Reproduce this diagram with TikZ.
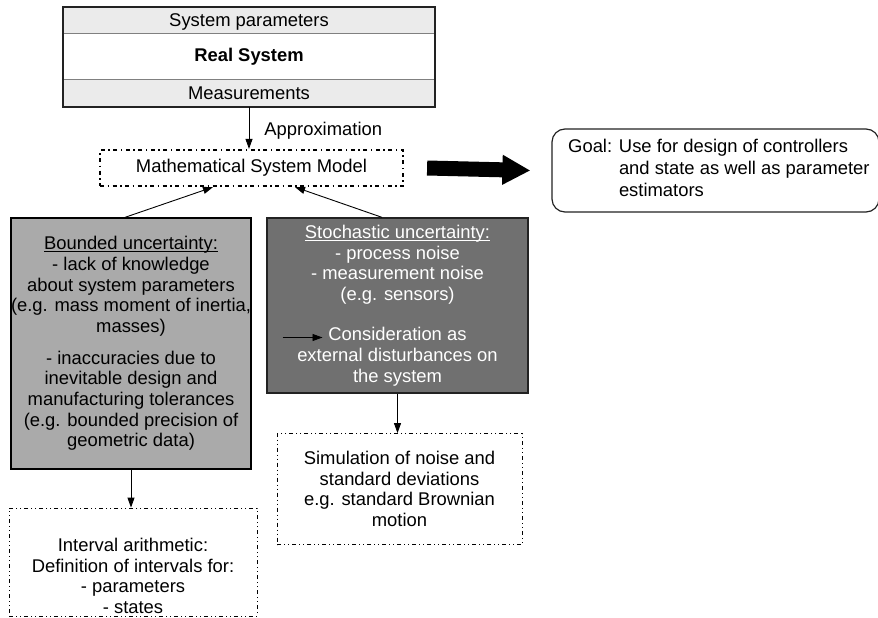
\documentclass[tikz,border=0pt]{standalone}
\usepackage{fontspec}
\setmainfont{Liberation Sans}
\usetikzlibrary{arrows.meta}
\definecolor{bandgray}{HTML}{EBEBEB}
\definecolor{boundgray}{HTML}{AAAAAA}
\definecolor{stochgray}{HTML}{707070}
\definecolor{edgedark}{HTML}{222222}
\newcommand\ulbelow[1]{\leavevmode\setbox0\hbox{#1}\rlap{\rule[-2.4pt]{\wd0}{0.9pt}}\box0}
\begin{document}
\begin{tikzpicture}[x=1pt,y=-1pt,
  every node/.style={font=\fontsize{18.4}{20.7}\selectfont, inner sep=0pt},
  band/.style={fill=bandgray, minimum width=372pt, text depth=0pt},
  arr/.style={draw=black, line width=0.9pt, -{Triangle[length=10pt,width=7pt]}},
  grayboxA/.style={draw=black, line width=1.3pt, fill=boundgray, align=center},
  grayboxB/.style={draw=edgedark, line width=1.3pt, fill=stochgray, text=white, align=center},
  dashbox/.style={draw=black, line width=0.8pt, align=center,
    dash pattern=on 4pt off 3pt on 1pt off 3pt on 1pt off 3pt},
  modelbox/.style={draw=black, line width=2.2pt,
    dash pattern=on 4pt off 3.5pt on 1.5pt off 3.5pt}
]
\useasboundingbox (0,0) rectangle (878,618);

% Real system block
\node[band, minimum height=26pt] (sp) at (249,20) {System parameters};
\node[minimum width=372pt, minimum height=47pt, fill=white] (rs) at (249,56.5) {\bfseries Real System};
\node[band, minimum height=27pt] (ms) at (249,93.5) {Measurements};
\draw[draw=gray, line width=1.3pt] (sp.south west) -- (sp.south east);
\draw[draw=gray, line width=1.3pt] (ms.north west) -- (ms.north east);
\draw[draw=edgedark, line width=2pt] (sp.north west) rectangle (ms.south east);

% Mathematical model
\node[modelbox, minimum width=303pt, minimum height=36pt] (mm) at (251.5,168) {Mathematical System Model};
\draw[arr] (ms.south) -- (ms.south |- mm.north) node[pos=0.56, right=15pt, anchor=west] (ap) {Approximation};

% Goal
\node[draw=edgedark, line width=1.2pt, rounded corners=13pt, minimum width=327pt, minimum height=83pt] (gl) at (715.5,170.5) {};
\node[anchor=north west, align=left, font=\fontsize{18.4}{22}\selectfont] (gt) at (568,139) {Goal: Use for design of controllers\\
\hphantom{Goal: }and state as well as parameter\\
\hphantom{Goal: }estimators};
\draw[line width=15pt, -{Triangle[length=28pt,width=28pt]}] ([xshift=23pt]mm.east) -- ([xshift=-21pt]gl.west);

% Bounded uncertainty
\node[grayboxA, minimum width=240pt, minimum height=251pt] (bu) at (131,343.5) {\ulbelow{Bounded uncertainty:}\\
- lack of knowledge\\
about system parameters\\
(e.g. mass moment of inertia,\\
masses)\\[11pt]
- inaccuracies due to\\
inevitable design and\\
manufacturing tolerances\\
(e.g. bounded precision of\\
geometric data)};

% Stochastic uncertainty
\node[grayboxB, minimum width=261pt, minimum height=175pt] (st) at (397.5,305.5) {\ulbelow{Stochastic uncertainty:}\\
- process noise\\
- measurement noise\\
(e.g. sensors)\\[19.5pt]
Consideration as\\
external disturbances on\\
the system};
\coordinate (ca) at ([xshift=-115pt,yshift=-32pt]st.center);
\coordinate (cb) at ([xshift=-75pt,yshift=-32pt]st.center);
\draw[arr] (ca) -- (cb);

% Arrows into model
\draw[arr] ([xshift=-6pt]bu.north) -- ([xshift=-38.5pt]mm.south);
\draw[arr] ([xshift=-15.5pt]st.north) -- ([xshift=43.5pt]mm.south);

% Interval arithmetic
\node[dashbox, minimum width=248pt, minimum height=108pt] (ia) at (133,562) {};
\node[align=center] (iat) at (133,576) {Interval arithmetic:\\
Definition of intervals for:\\
- parameters\\
- states};
\draw[arr] (bu.south) -- (bu.south |- ia.north);

% Simulation
\node[dashbox, minimum width=245pt, minimum height=111pt] (sim) at (399.5,489) {Simulation of noise and\\
standard deviations\\
e.g. standard Brownian\\
motion};
\draw[arr] (st.south) -- (st.south |- sim.north);
\end{tikzpicture}
\end{document}
